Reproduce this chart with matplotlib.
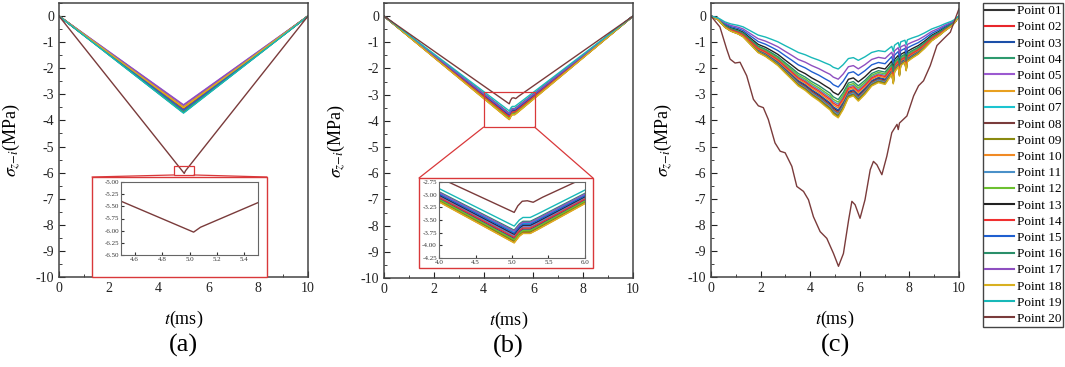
import matplotlib
matplotlib.use('Agg')
import matplotlib.pyplot as plt
from matplotlib.patches import Rectangle, ConnectionPatch
from matplotlib.ticker import MultipleLocator

plt.rcParams['font.family'] = ['Liberation Serif', 'DejaVu Serif']
plt.rcParams['mathtext.fontset'] = 'stix'
plt.rcParams['axes.unicode_minus'] = False

labels = ['Point %02d' % i for i in range(1, 21)]
colors = ['#333333', '#e8262b', '#1c4fa8', '#2e9a6e', '#9b59d0', '#e8a020',
          '#1cc4d0', '#7a3b3b', '#8a8a10', '#f08a24', '#4a90c8', '#6cc030',
          '#222222', '#f03030', '#1f5fd0', '#2a8f6a', '#8e4fc0', '#d8b020',
          '#18b8b8', '#7a3b3b']

# (a) straight V for points 01-19, point 20 separately
t_a = [0, 5, 10]
a_min = [-3.55, -3.58, -3.60, -3.70, -3.40, -3.48, -3.68, -3.62, -3.52, -3.50,
         -3.64, -3.66, -3.56, -3.59, -3.61, -3.70, -3.42, -3.52, -3.72]
t_a20 = [0, 5.03, 5.08, 10]
v_a20 = [0, -6.03, -5.93, 0]

# (b) V with a small kink after the minimum
t_b = [0, 5.03, 5.10, 5.15, 5.25, 5.35, 10]
b_shape = [0, -1.0, -0.967, -0.953, -0.953, -0.934, 0]
b_min = [-3.90, -3.88, -3.86, -3.92, -3.80, -3.94, -3.74, -3.93, -3.91, -3.95,
         -3.82, -3.89, -3.78, -3.84, -3.76, -3.70, -3.72, -3.95, -3.62]
t_b20 = [0, 5.03, 5.08, 5.14, 5.21, 5.29, 5.42, 10]
v_b20 = [0, -3.35, -3.22, -3.13, -3.12, -3.15, -3.05, 0]

# (c) profile of the deepest curve of the main bundle, peak value of each point
t_c = [0, 0.3, 0.56, 0.8, 1.1, 1.3, 1.5, 1.9, 2.2, 2.45, 2.7, 2.98, 3.25, 3.52,
       3.8, 4.06, 4.35, 4.6, 4.8, 4.93, 5.13, 5.33, 5.54, 5.74, 5.94, 6.21,
       6.48, 6.75, 7.02, 7.29, 7.35, 7.4, 7.55, 7.6, 7.65, 7.82, 7.87, 7.92,
       8.1, 8.36, 8.6, 8.9, 9.2, 9.44, 9.7, 9.84, 10]
c_base = [0, -0.15, -0.43, -0.58, -0.69, -0.80, -1.0, -1.4, -1.55, -1.72, -1.9,
          -2.17, -2.42, -2.68, -2.85, -3.06, -3.25, -3.45, -3.6, -3.77, -3.9,
          -3.58, -3.13, -3.06, -3.26, -3.0, -2.68, -2.55, -2.62, -2.23, -2.6,
          -2.15, -1.95, -2.3, -1.9, -1.78, -2.1, -1.75, -1.62, -1.46, -1.25,
          -0.95, -0.75, -0.56, -0.38, -0.24, 0]
c_min = [-3.65, -3.70, -3.60, -3.74, -3.78, -3.87, -3.81, -3.83, -3.84, -3.52,
         -3.38, -3.30, -3.02, -3.45, -2.72, -3.20, -2.42, -3.90, -2.03]
t_c20 = [0, 0.36, 0.63, 0.77, 0.97, 1.17, 1.44, 1.71, 1.91, 2.11, 2.31, 2.58,
         2.79, 2.99, 3.26, 3.46, 3.73, 3.93, 4.13, 4.40, 4.67, 4.94, 5.14, 5.34,
         5.55, 5.68, 5.81, 6.01, 6.21, 6.42, 6.55, 6.69, 6.89, 7.09, 7.29, 7.5,
         7.55, 7.6, 7.9, 8.17, 8.37, 8.57, 8.84, 9.11, 9.38, 9.65, 9.85, 10]
v_c20 = [0, -0.42, -1.26, -1.65, -1.80, -1.77, -2.29, -3.19, -3.44, -3.51, -3.96,
         -4.86, -5.18, -5.24, -5.76, -6.53, -6.72, -7.04, -7.69, -8.26, -8.52,
         -9.10, -9.59, -9.10, -7.81, -7.10, -7.23, -7.75, -7.04, -5.89, -5.57,
         -5.70, -6.08, -5.37, -4.47, -4.15, -4.35, -4.10, -3.83, -3.06, -2.67,
         -2.48, -1.90, -1.13, -0.87, -0.62, -0.10, 0.28]

W, H = 1065, 367
fig = plt.figure(figsize=(W / 100, H / 100), dpi=100)


def fbox(x0, y0, x1, y1):
    # pixel box (top-left origin) -> figure fraction rect
    return [x0 / W, 1 - y1 / H, (x1 - x0) / W, (y1 - y0) / H]


def style(ax, letter):
    ax.set_xlim(0, 10)
    ax.set_ylim(-10, 0.5)
    ax.set_xticks(range(0, 11, 2))
    ax.set_yticks(range(-10, 1))
    ax.xaxis.set_minor_locator(MultipleLocator(1))
    ax.yaxis.set_minor_locator(MultipleLocator(0.5))
    ax.tick_params(which='both', direction='in', top=False, right=False,
                   labelsize=10, colors='#222222')
    ax.tick_params(which='major', length=4)
    ax.tick_params(which='minor', length=2.5)
    for s in ax.spines.values():
        s.set_color('#444444')
        s.set_linewidth(1.1)
    ax.set_ylabel(r'$\sigma_{z\mathrm{-}i}$(MPa)', fontsize=13)
    ax.yaxis.set_label_coords(-0.15, 0.5)
    ax.set_xlabel(r'$t$(ms)', fontsize=13)
    ax.xaxis.set_label_coords(0.5, -0.115)
    ax.text(0.5, -0.25, letter, transform=ax.transAxes, ha='center',
            va='center', fontsize=19)


def style_inset(ax):
    ax.tick_params(which='both', direction='in', labelsize=5, length=2,
                   pad=1.5, colors='#333333')
    for s in ax.spines.values():
        s.set_color('#666666')
        s.set_linewidth(0.8)


def zoom_box(ax, rect, outer, inner, xl, yl, yticks, xticks):
    ax.add_patch(Rectangle((rect[0], rect[2]), rect[1] - rect[0],
                           rect[3] - rect[2], fill=False, ec='#d9383a',
                           lw=0.9, zorder=5))
    ob = fbox(*outer)
    fig.add_artist(Rectangle(ob[:2], ob[2], ob[3], transform=fig.transFigure,
                             fc='white', ec='#d9383a', lw=1.0, zorder=3))
    for xd, xf in [(rect[0], outer[0]), (rect[1], outer[2])]:
        fig.add_artist(ConnectionPatch(xyA=(xd, rect[2]), coordsA=ax.transData,
                                       xyB=(xf / W, 1 - outer[1] / H),
                                       coordsB=fig.transFigure,
                                       color='#d9383a', lw=0.9, zorder=3))
    ins = fig.add_axes(fbox(*inner), zorder=4)
    ins.set_xlim(*xl)
    ins.set_ylim(*yl)
    ins.set_yticks(yticks)
    ins.set_xticks(xticks)
    ins.set_yticklabels(['%.2f' % v for v in yticks])
    ins.set_xticklabels(['%.1f' % v for v in xticks])
    style_inset(ins)
    return ins


# ---------- (a)
ax_a = fig.add_axes(fbox(59, 3, 308, 277))
ins_a = zoom_box(ax_a, (4.62, 5.42, -6.09, -5.75), (92, 177, 267, 277),
                 (121, 182, 258, 255), (4.5, 5.5), (-6.5, -5.0),
                 [-6.5, -6.25, -6.0, -5.75, -5.5, -5.25, -5.0],
                 [4.6, 4.8, 5.0, 5.2, 5.4])
for i in range(19):
    for a in (ax_a, ins_a):
        a.plot(t_a, [0, a_min[i], 0], color=colors[i], lw=1.0)
for a in (ax_a, ins_a):
    a.plot(t_a20, v_a20, color=colors[19], lw=1.0)
style(ax_a, '(a)')

# ---------- (b)
ax_b = fig.add_axes(fbox(384, 3, 633, 278))
ins_b = zoom_box(ax_b, (4.0, 6.05, -4.24, -2.9), (419, 178, 593, 268),
                 (439, 182, 585, 258), (4.0, 6.0), (-4.25, -2.75),
                 [-4.25, -4.0, -3.75, -3.5, -3.25, -3.0, -2.75],
                 [4.0, 4.5, 5.0, 5.5, 6.0])
for i in range(19):
    vals = [s * -b_min[i] for s in b_shape]
    for a in (ax_b, ins_b):
        a.plot(t_b, vals, color=colors[i], lw=1.0)
for a in (ax_b, ins_b):
    a.plot(t_b20, v_b20, color=colors[19], lw=1.0)
style(ax_b, '(b)')

# ---------- (c)
ax_c = fig.add_axes(fbox(711, 3, 959, 277))
handles = []
for i in range(19):
    vals = [v * c_min[i] / -3.9 for v in c_base]
    h, = ax_c.plot(t_c, vals, color=colors[i], lw=1.0, label=labels[i])
    handles.append(h)
h, = ax_c.plot(t_c20, v_c20, color=colors[19], lw=1.0, label=labels[19])
handles.append(h)
style(ax_c, '(c)')

leg = fig.legend(handles, labels, loc='upper left',
                 bbox_to_anchor=(983 / W, 1 - 3 / H), borderaxespad=0,
                 fontsize=9.5, frameon=True, fancybox=False, framealpha=1,
                 edgecolor='#444444', handlelength=2.2, handletextpad=0.2,
                 labelspacing=0.3, borderpad=0.15)
leg.get_frame().set_linewidth(1.0)
for ln in leg.get_lines():
    ln.set_linewidth(1.5)

fig.savefig('out.png', dpi=100)
